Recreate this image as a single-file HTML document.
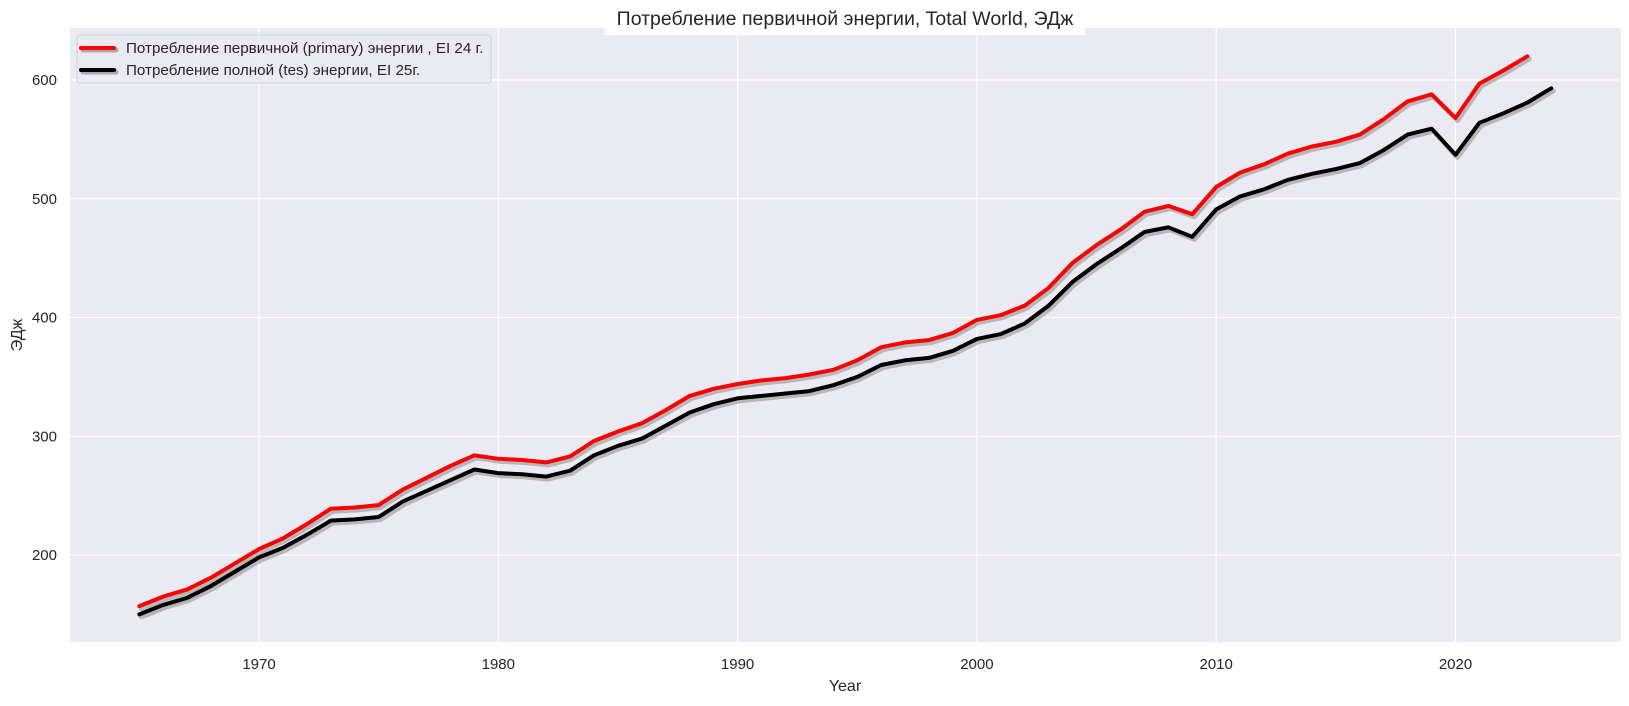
<!DOCTYPE html>
<html><head><meta charset="utf-8"><style>
body{margin:0;background:#fff}
svg text{font-family:"Liberation Sans","DejaVu Sans",sans-serif;fill:#262626}
</style></head><body>
<svg id="s" width="1629" height="701" xmlns="http://www.w3.org/2000/svg">
<rect x="70" y="28" width="1551" height="614" fill="#eaeaf2"/>
<g id="grid" stroke="#fff" stroke-width="1.2"></g>
<g id="lines" fill="none" stroke-linejoin="round" stroke-linecap="round"></g>
<rect x="605" y="2" width="480" height="33" fill="#fff"/>
<text x="845" y="25" font-size="19.5" text-anchor="middle">Потребление первичной энергии, Total World, ЭДж</text>
<g id="ticks" font-size="15"></g>
<text x="845" y="691" font-size="16" text-anchor="middle">Year</text>
<text transform="translate(22,335) rotate(-90)" font-size="16" text-anchor="middle">ЭДж</text>
<rect x="77" y="35" width="414" height="48" rx="3" fill="#eaeaf2" fill-opacity="0.8" stroke="#d0d0d8"/>
<line x1="83" y1="50" x2="116" y2="50" stroke="#aaa" stroke-width="5" stroke-linecap="round"/>
<line x1="81" y1="48" x2="114" y2="48" stroke="#f00" stroke-width="4" stroke-linecap="round"/>
<line x1="83" y1="72" x2="116" y2="72" stroke="#aaa" stroke-width="5" stroke-linecap="round"/>
<line x1="81" y1="70" x2="114" y2="70" stroke="#000" stroke-width="4" stroke-linecap="round"/>
<text x="126" y="53" font-size="15.2">Потребление первичной (primary) энергии , EI 24 г.</text>
<text x="126" y="75" font-size="15.2">Потребление полной (tes) энергии, EI 25г.</text>
</svg>
<script>
const X=y=>259+(y-1970)*23.93, Y=v=>555-(v-200)*1.1875;
const red=[157,165,171,181,193,205,214,226,239,240,242,255,265,275,284,281,280,278,283,296,304,311,322,334,340,344,347,349,352,356,364,375,379,381,387,398,402,410,425,446,461,474,489,494,487,510,522,529,538,544,548,554,567,582,588,568,597,608,620];
const blk=[150,158,164,174,186,198,206,217,229,230,232,245,254,263,272,269,268,266,271,284,292,298,309,320,327,332,334,336,338,343,350,360,364,366,372,382,386,395,410,430,445,458,472,476,468,491,502,508,516,521,525,530,541,554,559,537,564,572,581,593];
const ns="http://www.w3.org/2000/svg";
function el(p,t,a,txt){const e=document.createElementNS(ns,t);for(const k in a)e.setAttribute(k,a[k]);if(txt)e.textContent=txt;p.appendChild(e);return e;}
const g=document.getElementById('grid'),tk=document.getElementById('ticks'),L=document.getElementById('lines');
for(let v=200;v<=600;v+=100){el(g,'line',{x1:70,x2:1621,y1:Y(v),y2:Y(v)});el(tk,'text',{x:57,y:Y(v)+5,'text-anchor':'end'},String(v));}
for(let y=1970;y<=2020;y+=10){el(g,'line',{x1:X(y),x2:X(y),y1:28,y2:642});el(tk,'text',{x:X(y),y:669,'text-anchor':'middle'},String(y));}
function pts(a,dx,dy){return a.map((v,i)=>(X(1965+i)+dx).toFixed(1)+','+(Y(v)+dy).toFixed(1)).join(' ');}
[[red,'#f00'],[blk,'#000']].forEach(([a,c])=>{
el(L,'polyline',{points:pts(a,2,2.5),stroke:'#aaa','stroke-opacity':0.8,'stroke-width':5});
el(L,'polyline',{points:pts(a,0,0),stroke:c,'stroke-width':4});});
</script>
</body></html>
